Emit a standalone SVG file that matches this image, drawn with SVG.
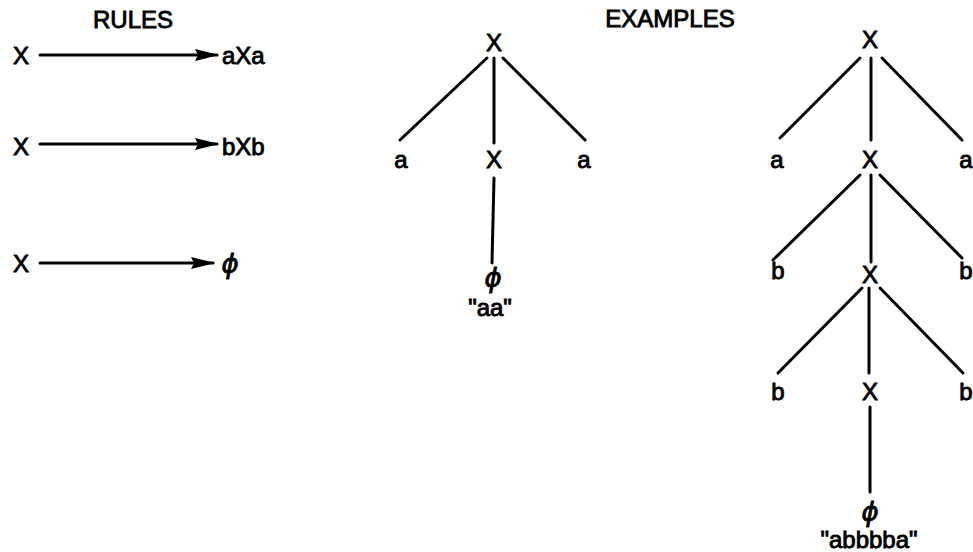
<svg xmlns="http://www.w3.org/2000/svg" width="973" height="552" viewBox="0 0 973 552">
<defs>
<style>
text{font-family:"Liberation Sans",Arial,sans-serif;font-size:24px;fill:#000;stroke:#000;stroke-width:0.9px;text-anchor:middle}
.p{font-family:"DejaVu Sans",sans-serif;font-size:26px;font-style:italic}
.l{stroke:#000;stroke-width:3;fill:none;stroke-linecap:round}
.s{text-anchor:start}
</style>
<marker id="ah" viewBox="0 0 24 12" refX="22" refY="6" markerWidth="8" markerHeight="4" markerUnits="strokeWidth" orient="auto">
<path d="M0,0 L24,6 L0,12 L3,6 Z" fill="#000"/>
</marker>
</defs>
<rect width="973" height="552" fill="#fff"/>
<g id="titles">
<text x="133" y="28">RULES</text>
<text x="670" y="27">EXAMPLES</text>
</g>
<g id="rules">
<g id="r1"><text class="s" x="13" y="64">X</text><text class="s" x="222" y="64">aXa</text></g>
<g id="r2"><text class="s" x="13" y="155">X</text><text class="s" x="222" y="155">bXb</text></g>
<g id="r3"><text class="s" x="13" y="272">X</text><text class="p" x="230" y="273">ϕ</text></g>
</g>
<g id="connectors">
<line class="l" x1="40" y1="55" x2="217" y2="55" marker-end="url(#ah)"/>
<line class="l" x1="40" y1="144" x2="217" y2="144" marker-end="url(#ah)"/>
<line class="l" x1="40" y1="263" x2="213" y2="263" marker-end="url(#ah)"/>
<line class="l" x1="487" y1="58" x2="400" y2="140"/>
<line class="l" x1="494" y1="58" x2="494" y2="143"/>
<line class="l" x1="503" y1="58" x2="585" y2="140"/>
<line class="l" x1="494" y1="178" x2="492" y2="263"/>
<line class="l" x1="860" y1="58" x2="780" y2="138"/>
<line class="l" x1="871" y1="58" x2="871" y2="140"/>
<line class="l" x1="882" y1="58" x2="962" y2="140"/>
<line class="l" x1="860" y1="175" x2="773" y2="260"/>
<line class="l" x1="871" y1="175" x2="871" y2="262"/>
<line class="l" x1="880" y1="175" x2="962" y2="258"/>
<line class="l" x1="862" y1="288" x2="778" y2="373"/>
<line class="l" x1="869" y1="288" x2="869" y2="373"/>
<line class="l" x1="880" y1="288" x2="963" y2="373"/>
<line class="l" x1="870" y1="407" x2="870" y2="492"/>
</g>
<g id="t1-root"><text x="494" y="51">X</text></g>
<g id="t1-a1"><text x="401" y="168">a</text></g>
<g id="t1-x"><text x="494" y="168">X</text></g>
<g id="t1-a2"><text x="584" y="168">a</text></g>
<g id="t1-phi"><text class="p" x="493" y="287">ϕ</text><text x="490" y="316">"aa"</text></g>
<g id="t2-root"><text x="870" y="48">X</text></g>
<g id="t2-a1"><text x="777" y="168">a</text></g>
<g id="t2-x1"><text x="870" y="168">X</text></g>
<g id="t2-a2"><text x="966" y="168">a</text></g>
<g id="t2-b1"><text x="778" y="279">b</text></g>
<g id="t2-x2"><text x="870" y="283">X</text></g>
<g id="t2-b2"><text x="966" y="279">b</text></g>
<g id="t2-b3"><text x="778" y="400">b</text></g>
<g id="t2-x3"><text x="870" y="400">X</text></g>
<g id="t2-b4"><text x="966" y="400">b</text></g>
<g id="t2-phi"><text class="p" x="870" y="521">ϕ</text><text x="869" y="548">"abbbba"</text></g>
</svg>
